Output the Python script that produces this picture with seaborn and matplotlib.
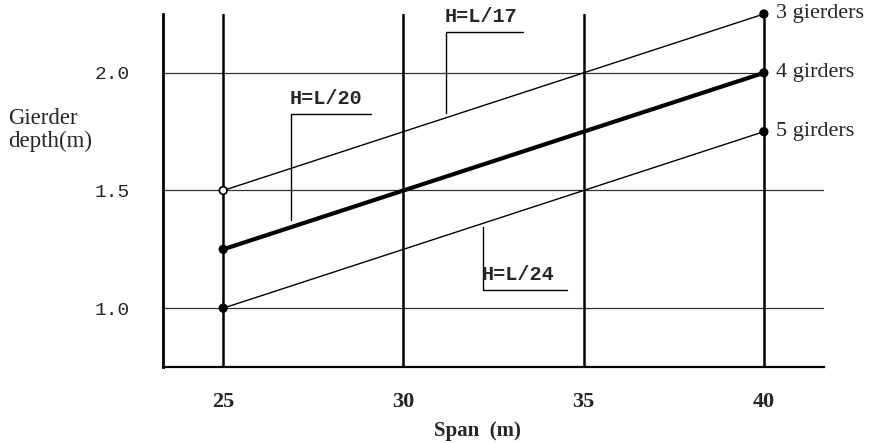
import matplotlib
matplotlib.use("Agg")
import matplotlib.pyplot as plt
import pandas as pd
import seaborn as sns

# ---------------------------------------------------------------------------
# Data: girder depth vs span
# ---------------------------------------------------------------------------
SPAN = [25, 30, 35, 40]
DEPTH_3 = [1.50, 1.75, 2.00, 2.25]   # H = L/17
DEPTH_4 = [1.25, 1.50, 1.75, 2.00]   # H = L/20
DEPTH_5 = [1.00, 1.25, 1.50, 1.75]   # H = L/24
SERIES_LABELS = ["3 gierders", "4 girders", "5 girders"]
RATIO_LABELS = ["H=L/17", "H=L/20", "H=L/24"]
X_TICKS = [25, 30, 35, 40]
Y_TICKS = [1.0, 1.5, 2.0]

sns.set_theme(style="white")
plt.rcParams["font.family"] = ["Liberation Serif", "DejaVu Serif"]

df = pd.DataFrame({
    "span": SPAN * 3,
    "depth": DEPTH_3 + DEPTH_4 + DEPTH_5,
    "series": [s for s in SERIES_LABELS for _ in SPAN],
})

fig = plt.figure(figsize=(8.76, 4.43), dpi=100)
ax = fig.add_axes([0.1861, 0.1716, 0.7546, 0.7968])

widths = {SERIES_LABELS[0]: 1.0, SERIES_LABELS[1]: 3.0, SERIES_LABELS[2]: 1.0}
for name in SERIES_LABELS:
    sub = df[df["series"] == name]
    sns.lineplot(data=sub, x="span", y="depth", color="black",
                 linewidth=widths[name], ax=ax, zorder=4)
    ends = sub[sub["span"].isin([SPAN[0], SPAN[-1]])]
    face = ["white" if (name == SERIES_LABELS[0] and x == SPAN[0]) else "black"
            for x in ends["span"]]
    ax.scatter(ends["span"], ends["depth"], s=30, c=face, edgecolors="black",
               linewidths=1.2, zorder=5, clip_on=False)
    last = sub.iloc[-1]
    ax.annotate(name, (last["span"], last["depth"]), xytext=(9, 0),
                textcoords="offset points", va="center", ha="left",
                fontsize=16, annotation_clip=False)

# labelled leaders for the depth ratios: (x, y at curve, y at bar, bar end x)
leaders = [
    (31.18, 1.83, 2.175, 33.33),
    (26.87, 1.374, 1.826, 29.09),
    (32.20, 1.345, 1.077, 34.53),
]
for (x0, y0, y1, x1), lab in zip(leaders, RATIO_LABELS):
    ax.plot([x0, x0, x1], [y0, y1, y1], color="black", linewidth=1.0, zorder=3)
    ax.text(x0 - 0.03, y1 + 0.025, lab, ha="left", va="bottom",
            fontsize=14.5, fontweight="bold", family="Liberation Mono",
            zorder=6)

ax.set_xlim(23.33, 41.67)
ax.set_ylim(0.75, 2.25)
ax.set_xticks(X_TICKS)
ax.set_yticks(Y_TICKS)
ax.set_yticklabels([f"{v:.1f}" for v in Y_TICKS], family="Liberation Mono",
                   fontsize=14)
ax.set_xticklabels([str(v) for v in X_TICKS], fontsize=16, fontweight="bold")
ax.tick_params(axis="x", length=0, pad=18)
ax.tick_params(axis="y", length=3, width=1.0, color="black", pad=21)

ax.grid(False)
for x in X_TICKS:
    ax.axvline(x, color="black", linewidth=1.8, zorder=2)
x_frac_40 = (X_TICKS[-1] - 23.33) / (41.67 - 23.33)
for y in Y_TICKS:
    xmax = x_frac_40 if y == Y_TICKS[-1] else 1.0
    ax.axhline(y, xmax=xmax, color="#333333", linewidth=0.9, zorder=1)

for side in ["top", "right"]:
    ax.spines[side].set_visible(False)
ax.spines["left"].set_linewidth(2.0)
ax.spines["left"].set_color("black")
ax.spines["bottom"].set_linewidth(1.6)
ax.spines["bottom"].set_color("black")

ax.set_xlabel("Span  (m)", fontsize=15, fontweight="bold", va="center")
ax.xaxis.set_label_coords(0.475, -0.181)
ax.set_ylabel("Gierder\ndepth(m)", fontsize=16.5, rotation=0, ha="left",
              va="center", linespacing=1.1)
ax.yaxis.set_label_coords(-0.2345, 0.671)

fig.savefig("out.png", dpi=100, facecolor="white")
